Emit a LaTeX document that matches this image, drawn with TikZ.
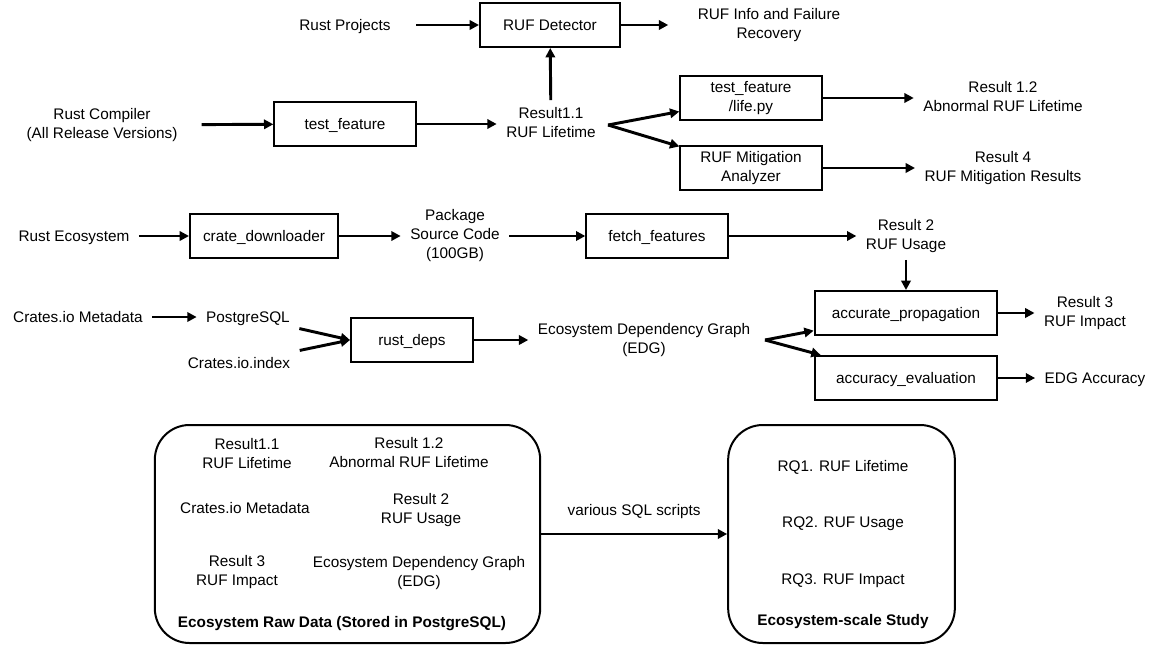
\documentclass[tikz,border=0pt]{standalone}
\usepackage{fontspec}
\setmainfont{Liberation Sans}
\usetikzlibrary{positioning, arrows.meta}
\tikzset{
	arrow/.style={line width=2.2pt, -{Triangle[length=7pt, width=7pt]}},
	box/.style={draw, line width=1.5pt, minimum height=33pt, inner sep=0pt, align=center},
	txt/.style={align=center, inner xsep=7pt, inner ysep=5pt},
	item/.style={align=center},
	store/.style={draw, line width=1.5pt, rounded corners=26pt, minimum height=163.5pt},
	every node/.append style={execute at begin node=\rule{0pt}{11.5pt}, execute at end node=\rule[-2.8pt]{0pt}{2.8pt}},
}

\begin{document}
\begin{tikzpicture}[x=0.75pt, y=-0.75pt, font=\fontsize{11.5}{14.25}\selectfont]
	\useasboundingbox (0,0) rectangle (1156,646);

	% detector
	\node[txt] (proj) at (345,25) {Rust Projects};
	\node[box, minimum width=105pt] (det) at (550,25) {RUF Detector};
	\node[txt] (info) at (769,25) {RUF Info and Failure\\Recovery};

	% lifetime
	\node[txt] (rustc) at (102,125) {Rust Compiler\\(All Release Versions)};
	\node[box, minimum width=106pt] (tf) at (345,124) {test\_feature};
	\node[txt] (r11) at (551,124) {Result1.1\\RUF Lifetime};
	\coordinate (f1) at (608,125);
	\node[box, minimum width=106pt] (life) at (751,98) {test\_feature\\/life.py};
	\node[box, minimum width=106pt] (mitig) at (751,168) {RUF Mitigation\\Analyzer};
	\node[txt] (r12) at (1003,98) {Result 1.2\\Abnormal RUF Lifetime};
	\node[txt] (r4) at (1003,168) {Result 4\\RUF Mitigation Results};

	% usage
	\node[txt] (eco) at (74,236) {Rust Ecosystem};
	\node[box, minimum width=111pt] (down) at (264,236) {crate\_downloader};
	\node[txt] (src) at (455,236) {Package\\Source Code\\(100GB)};
	\node[box, minimum width=106pt] (fetch) at (657,236) {fetch\_features};
	\node[txt] (r2) at (906,236) {Result 2\\RUF Usage};

	% dependency graph
	\node[txt] (meta) at (78,317) {Crates.io Metadata};
	\node[txt] (pg) at (248,317) {PostgreSQL};
	\node[txt] (idx) at (239,363) {Crates.io.index};
	\node[box, minimum width=91.5pt] (deps) at (412,340) {rust\_deps};
	\node[txt] (edg) at (644,340) {Ecosystem Dependency Graph\\(EDG)};
	\coordinate (f2) at (765,340);
	\node[box, minimum width=137pt] (prop) at (906,313) {accurate\_propagation};
	\node[box, minimum width=137pt] (eval) at (906,378) {accuracy\_evaluation};
	\node[txt] (r3) at (1085,313) {Result 3\\RUF Impact};
	\node[txt] (acc) at (1095,378) {EDG Accuracy};

	\draw[arrow, shorten <=12pt] (proj) -- (det);
	\draw[arrow, shorten >=15pt] (det) -- (info);
	\draw[arrow, shorten <=11pt] (rustc) -- (tf);
	\draw[arrow] (tf) -- (r11);
	\draw[arrow] (r11) -- (det);
	\draw[arrow] (f1) -- (life);
	\draw[arrow] (f1) -- (mitig);
	\draw[arrow] (life) -- (r12);
	\draw[arrow] (mitig) -- (r4);
	\draw[arrow] (eco) -- (down);
	\draw[arrow] (down) -- (src);
	\draw[arrow] (src) -- (fetch);
	\draw[arrow] (fetch) -- (r2);
	\draw[arrow] (r2) -- (prop);
	\draw[arrow] (meta) -- (pg);
	\draw[arrow] (pg) -- (deps.west);
	\draw[arrow] (idx) -- (deps.west);
	\draw[arrow] (deps) -- (edg);
	\draw[arrow] (f2) -- (prop);
	\draw[arrow] (f2) -- (eval);
	\draw[arrow] (prop) -- (r3);
	\draw[arrow] (eval) -- (acc);

	% raw data and study
	\node[store, minimum width=289pt] (raw) at (347.5,534) {};
	\node[item] (raw11) at (247,455) {Result1.1\\RUF Lifetime};
	\node[item] (raw12) at (409,454) {Result 1.2\\Abnormal RUF Lifetime};
	\node[item] (rawmeta) at (245,508) {Crates.io Metadata};
	\node[item] (raw2) at (421,510) {Result 2\\RUF Usage};
	\node[item] (raw3) at (237,572) {Result 3\\RUF Impact};
	\node[item] (rawedg) at (419,573) {Ecosystem Dependency Graph\\(EDG)};
	\node[item, font=\fontsize{11.5}{14.25}\selectfont\bfseries] (rawtitle) at (342,622) {Ecosystem Raw Data (Stored in PostgreSQL)};

	\node[store, minimum width=170pt] (study) at (841.5,534) {};
	\node[item] (rq1) at (843,466) {RQ1. RUF Lifetime};
	\node[item] (rq2) at (843,522) {RQ2. RUF Usage};
	\node[item] (rq3) at (843,579) {RQ3. RUF Impact};
	\node[item, font=\fontsize{11.5}{14.25}\selectfont\bfseries] (studytitle) at (843,620) {Ecosystem-scale Study};

	\draw[arrow] (raw) -- node[above=7pt] {various SQL scripts} (study);
\end{tikzpicture}
\end{document}
